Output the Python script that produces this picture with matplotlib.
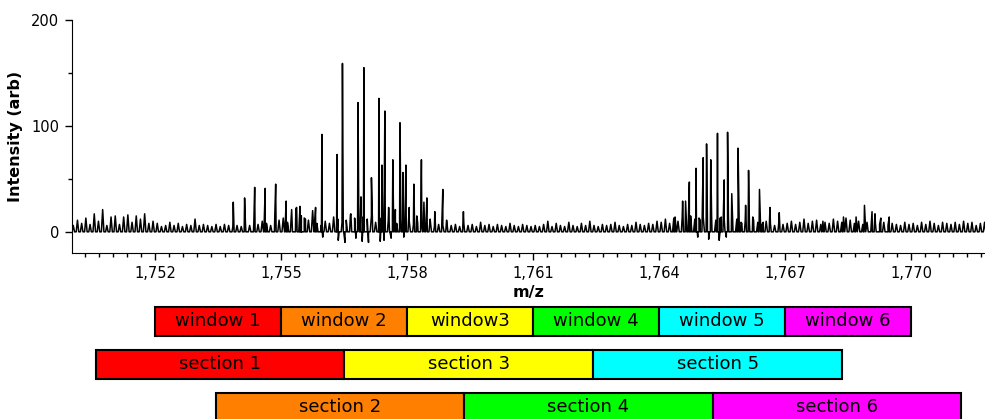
import numpy as np
import matplotlib
matplotlib.use('Agg')
import matplotlib.pyplot as plt
from matplotlib.ticker import MultipleLocator, AutoMinorLocator, FuncFormatter

# isotope cluster peaks (m/z, intensity)
peaks_mz = [1753.86, 1754.13, 1754.37, 1754.62, 1754.87, 1755.12, 1755.24, 1755.37, 1755.45,
            1755.48, 1755.58, 1755.82, 1755.97, 1756.33, 1756.46, 1756.66, 1756.83, 1756.90,
            1756.97, 1757.15, 1757.33, 1757.40, 1757.47, 1757.56, 1757.66, 1757.72, 1757.83,
            1757.90, 1757.97, 1758.05, 1758.16, 1758.23, 1758.34, 1758.40, 1758.47, 1758.55,
            1758.66, 1758.85, 1758.94, 1759.34,
            1764.38, 1764.56, 1764.63, 1764.72, 1764.88, 1764.98, 1765.05, 1765.13, 1765.23,
            1765.39, 1765.48, 1765.55, 1765.63, 1765.73, 1765.88, 1765.97, 1766.06, 1766.13,
            1766.23, 1766.39, 1766.48, 1766.64, 1766.86,
            1767.90, 1768.39, 1768.69, 1768.89, 1769.07, 1769.14, 1769.28, 1769.48]
peaks_int = [28, 32, 42, 41, 45, 29, 14, 23, 24,
             15, 12, 23, 92, 73, 159, 17, 122, 33,
             155, 51, 126, 63, 114, 23, 68, 21, 103,
             56, 63, 23, 45, 15, 68, 28, 32, 12,
             19, 40, 11, 19,
             14, 29, 29, 47, 60, 11, 70, 83, 68,
             93, 14, 49, 94, 36, 79, 8, 25, 58,
             14, 40, 9, 23, 18,
             10, 14, 14, 25, 19, 17, 13, 14]

# dips below the baseline
dips_mz = [1755.99, 1756.36, 1756.52, 1756.78, 1756.93, 1757.08, 1757.36, 1757.45, 1757.62,
           1757.92, 1764.92, 1765.18, 1765.43, 1765.60]
dips_int = [-5, -8, -10, -6, -9, -10, -9, -8, -6, -5, -5, -7, -8, -5]

# baseline noise, one value every 0.1 m/z from 1750.05
noise_start = 1750.05
noise_step = 0.1
noise_int = [6, 11, 8, 13, 7, 17, 10, 21, 6, 14,
             15, 7, 14, 16, 9, 15, 12, 17, 8, 10,
             8, 5, 6, 9, 6, 8, 5, 7, 6, 12,
             6, 7, 6, 5, 7, 5, 7, 6, 5, 6,
             5, 8, 6, 9, 7, 10, 8, 6, 17, 11,
             13, 9, 21, 22, 15, 13, 11, 20, 8, 6,
             10, 8, 14, 12, 9, 11, 16, 13, 10, 14,
             12, 15, 9, 13, 11, 10, 14, 8, 12, 9,
             10, 7, 9, 6, 8, 11, 5, 7, 6, 8,
             6, 7, 5, 8, 6, 7, 5, 9, 6, 7,
             5, 7, 6, 5, 8, 6, 5, 7, 6, 5,
             6, 5, 7, 10, 5, 8, 6, 5, 9, 6,
             5, 8, 6, 10, 6, 5, 7, 6, 7, 9,
             6, 5, 7, 6, 9, 7, 6, 8, 7, 10,
             9, 12, 8, 13, 10, 14, 11, 15, 12, 13,
             14, 12, 15, 11, 13, 12, 14, 10, 12, 9,
             10, 8, 11, 9, 7, 10, 8, 6, 9, 7,
             8, 10, 7, 9, 12, 8, 10, 11, 7, 9,
             8, 12, 10, 9, 13, 11, 8, 10, 7, 9,
             6, 8, 7, 9, 6, 8, 7, 6, 9, 7,
             8, 6, 9, 7, 10, 8, 6, 9, 8, 7,
             9, 7, 10, 8, 9, 6, 8, 9]

# acquisition windows and sections (m/z edges)
window_labels = ['window 1', 'window 2', 'window3', 'window 4', 'window 5', 'window 6']
window_edges = [1752, 1755, 1758, 1761, 1764, 1767, 1770]
window_colors = ['#ff0000', '#ff8000', '#ffff00', '#00ff00', '#00ffff', '#ff00ff']

odd_labels = ['section 1', 'section 3', 'section 5']
odd_edges = [1750.6, 1756.5, 1762.43, 1768.36]
odd_colors = ['#ff0000', '#ffff00', '#00ffff']

even_labels = ['section 2', 'section 4', 'section 6']
even_edges = [1753.45, 1759.35, 1765.28, 1771.2]
even_colors = ['#ff8000', '#00ff00', '#ff00ff']

xmin, xmax = 1750.02, 1771.76

# profile trace built from the stick lists
noise_mz = noise_start + noise_step * np.arange(len(noise_int))
mz = np.concatenate([peaks_mz, dips_mz, noise_mz])
inten = np.concatenate([peaks_int, dips_int, noise_int]).astype(float)
hw = 0.03
xs = np.column_stack([mz - hw, mz, mz + hw]).ravel()
ys = np.column_stack([np.zeros_like(inten), inten, np.zeros_like(inten)]).ravel()
order = np.argsort(xs, kind='stable')
xs, ys = xs[order], ys[order]

fig = plt.figure(figsize=(9.85, 4.19), dpi=100)
ax = fig.add_axes([72/985, 1-253/419, 913/985, 233/419])
ax.plot(xs, ys, color='black', lw=1.1)
ax.set_xlim(xmin, xmax)
ax.set_ylim(-20, 200)
ax.spines['top'].set_visible(False)
ax.spines['right'].set_visible(False)
ax.spines['left'].set_bounds(-20, 200)
ax.xaxis.set_major_locator(MultipleLocator(3))
ax.xaxis.set_minor_locator(AutoMinorLocator(9))
ax.yaxis.set_major_locator(MultipleLocator(100))
ax.yaxis.set_minor_locator(MultipleLocator(50))
ax.xaxis.set_major_formatter(FuncFormatter(lambda v, p: f'{v:,.0f}'))
ax.tick_params(which='major', length=5, width=1, labelsize=10.5, pad=4)
ax.tick_params(which='minor', length=3, width=1)
ax.set_xlabel('m/z', fontsize=11.5, fontweight='bold', labelpad=3)
ax.set_ylabel('Intensity (arb)', fontsize=11.5, fontweight='bold', labelpad=6)

ax2 = fig.add_axes([72/985, 0, 913/985, 119/419])
ax2.set_xlim(xmin, xmax)
ax2.set_ylim(119, 0)
ax2.axis('off')

rows = [(window_labels, window_edges, window_colors, 21),
        (odd_labels, odd_edges, odd_colors, 64),
        (even_labels, even_edges, even_colors, 107)]
for labels, edges, colors, yc in rows:
    left = np.array(edges[:-1])
    width = np.diff(edges)
    ax2.barh(yc, width, left=left, height=29, color=colors, edgecolor='black',
             linewidth=1.5, clip_on=False)
    for l, w, t in zip(left, width, labels):
        ax2.text(l + w / 2, yc, t, ha='center', va='center', fontsize=13, clip_on=False)

plt.savefig('out.png', dpi=100)
